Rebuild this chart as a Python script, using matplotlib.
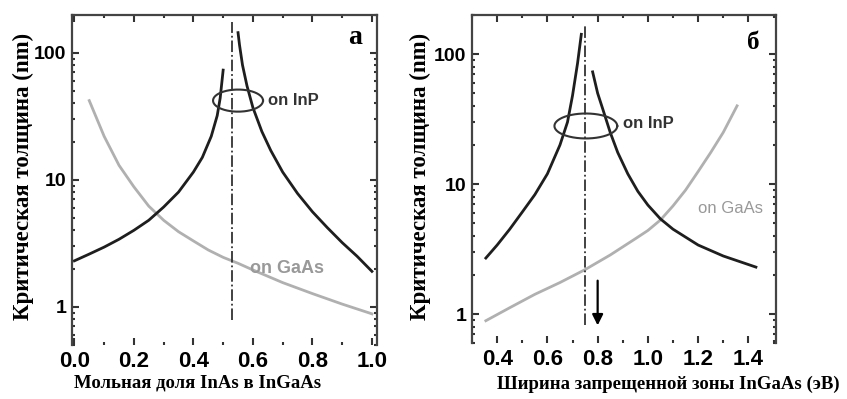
import numpy as np
import matplotlib
matplotlib.use('Agg')
import matplotlib.pyplot as plt
from matplotlib.ticker import LogLocator, MultipleLocator, NullFormatter, FixedLocator, FixedFormatter

# ---- data ----
# panel a: InAs mole fraction
a_inp_left_x = [0.0, 0.05, 0.1, 0.15, 0.2, 0.25, 0.3, 0.35, 0.4, 0.43, 0.46, 0.48, 0.49, 0.50]
a_inp_left_y = [2.3, 2.6, 2.95, 3.4, 4.0, 4.8, 6.1, 8.0, 11.5, 15, 22, 32, 44, 73]
a_inp_right_x = [0.55, 0.555, 0.565, 0.58, 0.6, 0.63, 0.66, 0.7, 0.75, 0.8, 0.85, 0.9, 0.95, 1.0]
a_inp_right_y = [144, 115, 80, 55, 37, 24, 17, 11.5, 7.8, 5.6, 4.2, 3.2, 2.5, 1.9]
a_gaas_x = [0.05, 0.1, 0.15, 0.2, 0.25, 0.3, 0.35, 0.4, 0.45, 0.5, 0.55, 0.6, 0.7, 0.8, 0.9, 1.0]
a_gaas_y = [42, 22, 13, 8.8, 6.2, 4.8, 3.9, 3.3, 2.8, 2.45, 2.2, 1.95, 1.55, 1.27, 1.05, 0.88]
a_lattice_x = 0.53

# panel b: band gap (eV)
b_inp_left_x = [0.355, 0.4, 0.45, 0.5, 0.55, 0.6, 0.65, 0.68, 0.70, 0.72, 0.735]
b_inp_left_y = [2.7, 3.4, 4.5, 6.1, 8.3, 12, 20, 30, 48, 85, 142]
b_inp_right_x = [0.78, 0.80, 0.82, 0.85, 0.88, 0.92, 0.96, 1.0, 1.05, 1.1, 1.2, 1.3, 1.43]
b_inp_right_y = [73, 50, 38, 25, 17.5, 12, 8.8, 6.9, 5.4, 4.5, 3.4, 2.8, 2.3]
b_gaas_x = [0.355, 0.45, 0.55, 0.65, 0.75, 0.85, 0.95, 1.0, 1.05, 1.1, 1.15, 1.2, 1.25, 1.3, 1.355]
b_gaas_y = [0.89, 1.12, 1.42, 1.75, 2.2, 2.85, 3.8, 4.4, 5.3, 6.8, 9.0, 12.5, 17.5, 25, 40]
b_lattice_x = 0.75
b_arrow_x = 0.8

sans = ['Liberation Sans Narrow', 'Liberation Sans', 'DejaVu Sans']
serif = ['Liberation Serif', 'DejaVu Serif']
ink = '#1e1e1e'
grey = '#b0b0b0'

fig = plt.figure(figsize=(8.47, 3.99), dpi=100)
ax1 = fig.add_axes([0.0850, 0.1353, 0.3601, 0.8283])
ax2 = fig.add_axes([0.5573, 0.1404, 0.3589, 0.8221])


def style(ax, xlim, ylim, xticks, xminor):
    ax.set_yscale('log')
    ax.set_xlim(*xlim)
    ax.set_ylim(*ylim)
    ax.xaxis.set_major_locator(FixedLocator(xticks))
    ax.xaxis.set_major_formatter(FixedFormatter(['%.1f' % t for t in xticks]))
    ax.xaxis.set_minor_locator(MultipleLocator(xminor))
    ax.yaxis.set_major_locator(FixedLocator([1, 10, 100]))
    ax.yaxis.set_major_formatter(FixedFormatter(['1', '10', '100']))
    ax.yaxis.set_minor_locator(LogLocator(base=10, subs=np.arange(2, 10)))
    ax.yaxis.set_minor_formatter(NullFormatter())
    ax.tick_params(which='both', direction='in', top=True, right=True,
                   color='#333333')
    ax.tick_params(which='major', length=5, width=1.5)
    ax.tick_params(which='minor', length=2.5, width=1.5)
    ax.tick_params(axis='x', pad=4)
    ax.tick_params(axis='y', pad=4)
    for lab in ax.get_xticklabels():
        lab.set_fontfamily(sans)
        lab.set_fontsize(16)
        lab.set_fontweight('bold')
    for lab in ax.get_yticklabels():
        lab.set_fontfamily(sans)
        lab.set_fontsize(14)
        lab.set_fontweight('bold')
    for side in ['left', 'right', 'top']:
        ax.spines[side].set_color('#444444')
        ax.spines[side].set_linewidth(1.6)
    ax.spines['bottom'].set_visible(False)


def oval(ax, cx, cy, hw, hdec):
    t = np.linspace(0, 2 * np.pi, 200)
    ax.plot(cx + hw * np.cos(t), cy * 10 ** (hdec * np.sin(t)), color='#333333', lw=1.5)


# panel a
style(ax1, (-0.008, 1.017), (0.5, 200), [0.0, 0.2, 0.4, 0.6, 0.8, 1.0], 0.1)
ax1.plot(a_gaas_x, a_gaas_y, color=grey, lw=2)
ax1.plot(a_inp_left_x, a_inp_left_y, color=ink, lw=2)
ax1.plot(a_inp_right_x, a_inp_right_y, color=ink, lw=2)
ax1.plot([a_lattice_x, a_lattice_x], [0.78, 174], color='#333333', lw=1.3, ls='-.')
oval(ax1, 0.55, 42, 0.084, 0.087)
ax1.text(0.65, 42, 'on InP', family=sans, fontsize=12, fontweight='bold', color='#333333', va='center')
ax1.text(0.59, 2.0, 'on GaAs', family=sans, fontsize=13, fontweight='bold', color='#999999', va='center')
ax1.text(0.928, 0.929, 'а', transform=ax1.transAxes, family=serif, fontsize=20, fontweight='bold',
         ha='center', va='center')

# panel b
style(ax2, (0.3, 1.51), (0.6, 200), [0.4, 0.6, 0.8, 1.0, 1.2, 1.4], 0.1)
ax2.plot(b_gaas_x, b_gaas_y, color=grey, lw=2)
ax2.plot(b_inp_left_x, b_inp_left_y, color=ink, lw=2)
ax2.plot(b_inp_right_x, b_inp_right_y, color=ink, lw=2)
ax2.plot([b_lattice_x, b_lattice_x], [0.82, 164], color='#333333', lw=1.3, ls='-.')
oval(ax2, 0.753, 28, 0.125, 0.096)
ax2.text(0.9, 29, 'on InP', family=sans, fontsize=12, fontweight='bold', color='#333333', va='center')
ax2.text(1.2, 6.5, 'on GaAs', family=sans, fontsize=12, color='#999999', va='center')
ax2.annotate('', xy=(b_arrow_x, 0.78), xytext=(b_arrow_x, 1.9),
             arrowprops=dict(arrowstyle='-|>', color='k', lw=1.6, mutation_scale=16))
ax2.text(0.924, 0.915, 'б', transform=ax2.transAxes, family=serif, fontsize=18, fontweight='bold',
         ha='center', va='center')

# axis titles
fig.text(198 / 847, 1 - 383 / 399, 'Мольная доля InAs в InGaAs', family=serif, fontsize=13.5,
         fontweight='bold', ha='center', va='center')
fig.text(668 / 847, 1 - 384 / 399, 'Ширина запрещенной зоны InGaAs (эВ)', family=serif, fontsize=13.5,
         fontweight='bold', ha='center', va='center')
fig.text(23 / 847, 1 - 176 / 399, 'Критическая толщина (nm)', family=serif, fontsize=16.5,
         fontweight='bold', rotation=90, ha='center', va='center')
fig.text(420 / 847, 1 - 176 / 399, 'Критическая толщина (nm)', family=serif, fontsize=16.5,
         fontweight='bold', rotation=90, ha='center', va='center')

fig.savefig('out.png', dpi=100)
